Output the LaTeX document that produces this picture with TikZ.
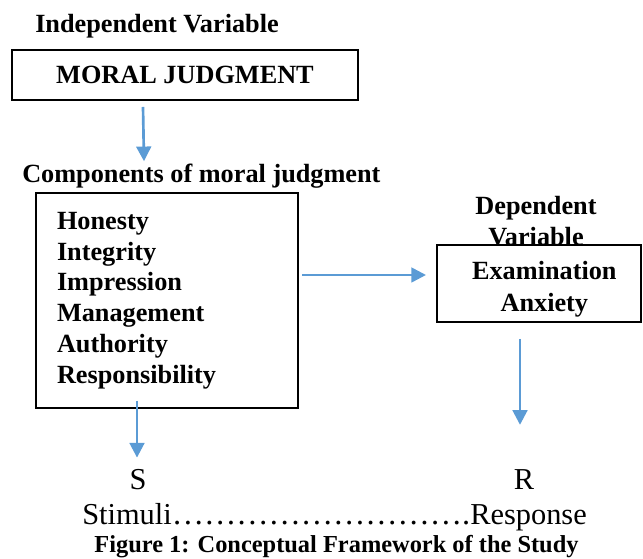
\documentclass[tikz,border=0pt]{standalone}
\usepackage{fontspec}
\setmainfont{Liberation Serif}
\definecolor{cfblue}{RGB}{91,155,213}
\usetikzlibrary{arrows.meta,positioning,calc}

\begin{document}
\begin{tikzpicture}[x=0.75pt,y=0.75pt,
  cfbox/.style={draw=black,line width=1.5pt,fill=white,inner sep=0pt,
    font=\fontsize{19.7}{23.1}\selectfont\bfseries},
  cfhead/.style={inner sep=0pt,font=\fontsize{19.7}{23.25}\selectfont\bfseries},
  cfplain/.style={inner sep=0pt,font=\fontsize{22.8}{27}\selectfont},
  cfarrow/.style={draw=cfblue,line width=2pt,-{Triangle[length=11pt,width=11pt]}}
]
  \useasboundingbox (0,0) rectangle (643,559);

  % independent side
  \node[cfhead,anchor=base west] (indep) at (35,526) {Independent Variable};
  \node[cfbox,minimum width=259.5pt,minimum height=37.5pt] (moral) at (185,484) {MORAL JUDGMENT};
  \node[cfhead,anchor=base west] (comptitle) at (22,376) {Components of moral judgment};
  \node[cfbox,minimum width=196.5pt,minimum height=161.25pt,text width=165pt,align=left]
    (comp) at (167,258.5) {Honesty\\Integrity\\Impression\\Management\\Authority\\Responsibility};

  % dependent side
  \node[cfhead,align=center,anchor=north] (dephead) at (536,363) {Dependent\\Variable};
  \node[cfbox,font=\fontsize{19.7}{24}\selectfont\bfseries,minimum width=153pt,
    minimum height=57.75pt,align=center] (exam) at (539,275.5)
    {\hspace*{8pt}\rule{0pt}{23pt}Examination\\\hspace*{8pt}Anxiety};

  % S-R line and caption
  \node[cfplain,anchor=base] (stim) at (138,69) {S};
  \node[cfplain,anchor=base] (resp) at (524,69) {R};
  \node[cfplain,anchor=base west] (srline) at (82,34)
    {Stimuli{\fontsize{24.2}{27}\selectfont ……………………….}Response};
  \node[inner sep=0pt,font=\fontsize{18.3}{22}\selectfont\bfseries,anchor=base]
    (caption) at (336.5,6) {Figure 1: Conceptual Framework of the Study};

  % arrows
  \draw[cfarrow] ($(moral.south west)+(132,-6)$) -- ($(comptitle.north west)+(122,3)$);
  \draw[cfarrow] ($(comp.east |- exam.west)+(3,8.5)$) -- ($(exam.west)+(-10,8.5)$);
  \draw[cfarrow] ($(exam.south)+(-19,-16)$) -- ($(resp.north)+(-4,45)$);
  \draw[cfarrow] ($(comp.south)+(-30,8)$) -- ($(stim.north)+(-1,12)$);
\end{tikzpicture}
\end{document}
